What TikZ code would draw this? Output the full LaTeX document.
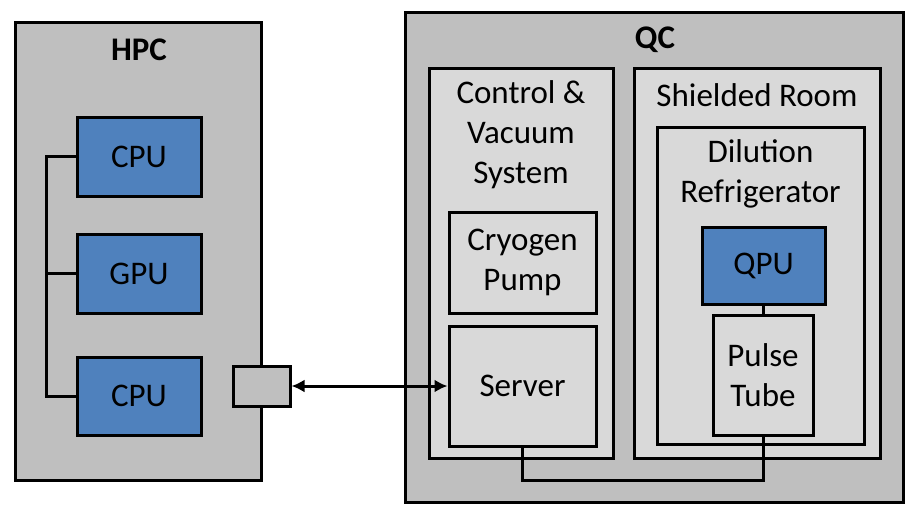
\documentclass[tikz,border=0pt]{standalone}
\usepackage{fontspec}
\setmainfont{Carlito}
\usetikzlibrary{arrows.meta}
\definecolor{boxgray}{HTML}{BFBFBF}
\definecolor{lightgray}{HTML}{D9D9D9}
\definecolor{chipblue}{HTML}{4F81BD}
\tikzset{
  box/.style={draw,line width=3pt,rectangle,inner sep=0pt},
  outerbox/.style={box,fill=boxgray},
  innerbox/.style={box,fill=lightgray},
  chip/.style={box,fill=chipblue},
  wire/.style={line width=3pt},
  txt/.style={align=center,inner sep=0pt,font=\fontsize{33}{40}\selectfont}
}
\begin{document}
\begin{tikzpicture}[x=1pt,y=-1pt]
  \useasboundingbox (0,0) rectangle (917,515);

  % HPC side
  \node[outerbox,minimum width=246pt,minimum height=458pt] (hpc) at (138,251) {};
  \node[txt,font=\fontsize{33}{40}\selectfont\bfseries] (hpclabel) at (139,50) {HPC};
  \node[chip,minimum width=124pt,minimum height=79pt,txt] (cpuA) at (139,156.5) {CPU};
  \node[chip,minimum width=124pt,minimum height=79pt,txt] (gpu) at (139,273.5) {GPU};
  \node[chip,minimum width=124pt,minimum height=78pt,txt] (cpuB) at (139,396) {CPU};
  \node[box,fill=boxgray,minimum width=57pt,minimum height=40pt] (port) at (261.5,386) {};

  \coordinate (bus) at (46,156.5);
  \draw[wire] (cpuA.west) -- (bus) |- (cpuB.west);
  \draw[wire] (gpu.west) -- (gpu.west -| bus);

  % QC side
  \node[outerbox,minimum width=498pt,minimum height=490pt] (qc) at (654,257) {};
  \node[txt,font=\fontsize{33}{40}\selectfont\bfseries] (qclabel) at (655,40) {QC};

  \node[innerbox,minimum width=184pt,minimum height=390pt] (ctrl) at (521,263) {};
  \node[txt] (ctrllabel) at (521,135) {Control \&\\Vacuum\\System};
  \node[innerbox,minimum width=147pt,minimum height=101pt,txt] (cryo) at (522.5,262.5) {Cryogen\\Pump};
  \node[innerbox,minimum width=147pt,minimum height=120pt,txt] (server) at (522.5,386) {Server};

  \node[innerbox,minimum width=246pt,minimum height=390pt] (room) at (757,263) {};
  \node[txt] (roomlabel) at (757,95) {Shielded Room};
  \node[innerbox,minimum width=207pt,minimum height=317pt] (dil) at (760.5,285.5) {};
  \node[txt] (dillabel) at (760.5,174) {Dilution\\Refrigerator};
  \node[chip,minimum width=123pt,minimum height=77pt,txt] (qpu) at (763.5,265.5) {QPU};
  \node[innerbox,minimum width=100pt,minimum height=120pt,txt] (pulse) at (763,375) {Pulse\\Tube};

  \draw[wire] (qpu.south -| pulse.north) -- (pulse.north);
  \coordinate (loop) at (0,480);
  \draw[wire] (server.south) |- (loop -| pulse.south) -- (pulse.south);

  % link between the two
  \draw[wire,{Latex[length=13pt,width=13pt]}-{Latex[length=13pt,width=13pt]}] (port.east) -- (server.west);
\end{tikzpicture}
\end{document}
